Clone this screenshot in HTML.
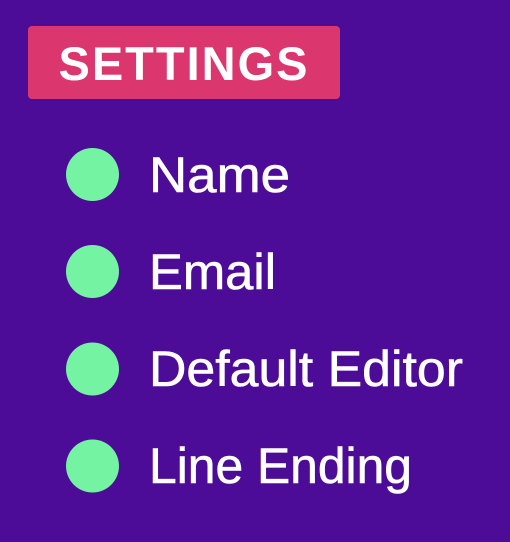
<!DOCTYPE html>
<html><head><meta charset="utf-8"><style>
html,body{margin:0;padding:0;background:#4d0c98;}
svg{display:block}
</style></head><body>
<svg width="510" height="542" viewBox="0 0 510 542" xmlns="http://www.w3.org/2000/svg">
<rect width="510" height="542" fill="#4d0c98"/>
<rect x="28" y="26" width="312" height="73" rx="4" fill="#db376e"/>
<text x="184" y="80" text-anchor="middle" font-family="Liberation Sans, sans-serif" font-weight="bold" font-size="47" letter-spacing="2" fill="#fff">SETTINGS</text>
<g fill="#74f3a3">
<circle cx="92.5" cy="174.5" r="26.5"/>
<circle cx="92.5" cy="271.5" r="26.5"/>
<circle cx="92.5" cy="369" r="26.5"/>
<circle cx="92.5" cy="466" r="26.5"/>
</g>
<g font-family="Liberation Sans, sans-serif" font-size="50" fill="#fff" stroke="#fff" stroke-width="0.6">
<text x="149" y="192" textLength="141" lengthAdjust="spacingAndGlyphs">Name</text>
<text x="149" y="289" textLength="127" lengthAdjust="spacingAndGlyphs">Email</text>
<text x="149" y="386" textLength="314" lengthAdjust="spacingAndGlyphs">Default Editor</text>
<text x="149" y="483" textLength="263" lengthAdjust="spacingAndGlyphs">Line Ending</text>
</g>
</svg>
</body></html>
